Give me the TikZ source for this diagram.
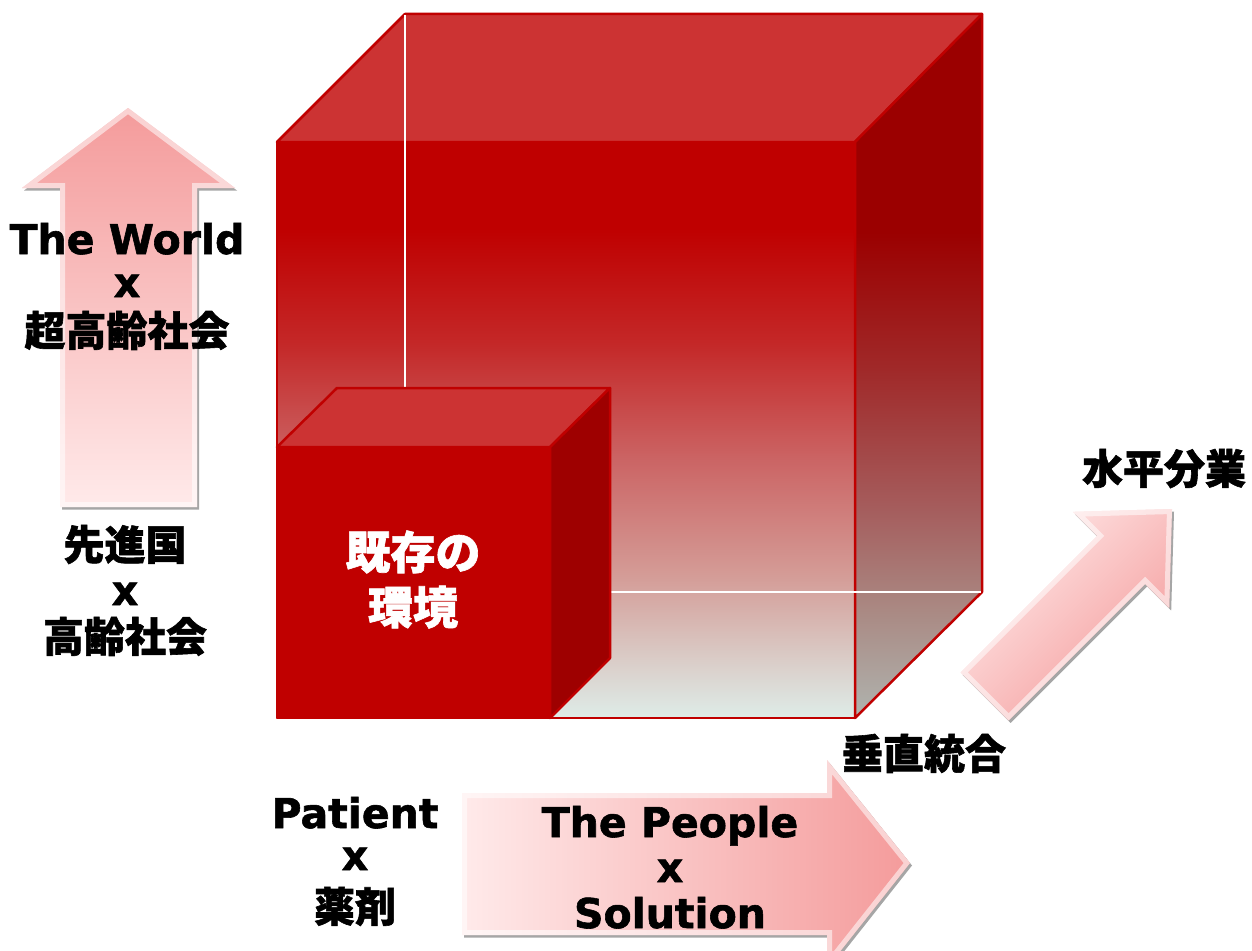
\documentclass[tikz,border=0pt]{standalone}
\usepackage{fontspec}
\setmainfont{DejaVu Sans}[BoldFeatures={FakeBold=1.4}]
\newfontfamily\cjk{Noto Sans CJK JP}[BoldFeatures={FakeBold=1.4}]
\usetikzlibrary{shadows}
\definecolor{cred}{RGB}{192,0,0}
\definecolor{ctop}{RGB}{204,51,51}
\definecolor{cside}{RGB}{158,0,0}
\definecolor{cdark}{RGB}{155,0,0}
\definecolor{fA}{RGB}{191,0,0}
\definecolor{fB}{RGB}{196,40,40}
\definecolor{fC}{RGB}{203,100,100}
\definecolor{fD}{RGB}{212,155,150}
\definecolor{fE}{RGB}{218,205,200}
\definecolor{fF}{RGB}{222,236,232}
\definecolor{sB}{RGB}{160,40,40}
\definecolor{sC}{RGB}{165,92,92}
\definecolor{sD}{RGB}{170,138,132}
\definecolor{sE}{RGB}{175,180,175}
\definecolor{pinkD}{RGB}{244,155,155}
\definecolor{pinkL}{RGB}{255,234,234}
\pgfdeclareverticalshading{frontgrad}{100bp}{color(0bp)=(fF); color(25bp)=(fF); color(30bp)=(fE); color(37.5bp)=(fD); color(47.5bp)=(fC); color(57.5bp)=(fB); color(67.5bp)=(fA); color(75bp)=(fA); color(100bp)=(fA)}
\pgfdeclareverticalshading{sidegrad}{100bp}{color(0bp)=(sE); color(25bp)=(sE); color(32.5bp)=(sD); color(40bp)=(sC); color(50bp)=(sB); color(59.5bp)=(cdark); color(75bp)=(cdark); color(100bp)=(cdark)}
\tikzset{
  edge/.style={draw=cred, line width=2.5pt, line join=round},
  hidden/.style={draw=white, line width=1.5pt},
  arrowshape/.style={drop shadow={shadow xshift=2pt, shadow yshift=-2.5pt, fill=black, opacity=.35}},
  bevel/.style={draw=white, draw opacity=.55, line width=10pt, line join=miter},
  lbl/.style={font=\fontsize{41}{41}\selectfont\bfseries, anchor=base, inner sep=0pt},
  jlbl/.style={font=\cjk\bfseries\fontsize{41}{41}\selectfont, anchor=base, inner sep=0pt},
  wlbl/.style={font=\cjk\bfseries\fontsize{45}{45}\selectfont, text=white, anchor=base, inner sep=0pt}
}
\def\arrUp{(60,507) -- (60,188) -- (22,188) -- (128,108) -- (235,188) -- (197,188) -- (197,507) -- cycle}
\def\arrRight{(462,793) -- (827,793) -- (827,760) -- (910,863) -- (827,968) -- (827,935) -- (462,935) -- cycle}
\def\arrDiag{(960.6,672.4) -- (1097.1,535.9) -- (1073.0,511.8) -- (1172,509) -- (1169.2,608.0) -- (1145.1,583.9) -- (1008.6,720.4) -- cycle}
\begin{document}
\begin{tikzpicture}[x=1pt,y=-1pt]
\useasboundingbox (0,0) rectangle (1252,950);
\fill[white] (0,0) rectangle (1252,950);
% ---- big cube
\shade[shading=frontgrad, edge] (277,142) rectangle (855,718);
\fill[ctop, edge] (277,142) -- (405,14) -- (982,14) -- (855,142) -- cycle;
\shade[shading=sidegrad, edge] (855,142) -- (982,14) -- (982,592) -- (855,718) -- cycle;
% hidden edges
\draw[hidden] (405,15) -- (405,592) -- (981,592);
\draw[hidden] (405,592) -- (277,718);
% ---- small cube
\fill[cred, edge] (277,447) rectangle (550,718);
\fill[ctop, edge] (277,447) -- (337,388) -- (610,388) -- (550,447) -- cycle;
\fill[cside, edge] (550,447) -- (610,388) -- (610,658) -- (550,718) -- cycle;
\node[wlbl] (e1) at (413,569) {既存の};
\node[wlbl] (e2) at (413,624) {環境};
% ---- up arrow
\shade[arrowshape, top color=pinkD, bottom color=pinkL] \arrUp;
\begin{scope}\clip \arrUp; \draw[bevel] \arrUp; \end{scope}
% ---- right arrow
\shade[arrowshape, left color=pinkL, right color=pinkD] \arrRight;
\begin{scope}\clip \arrRight; \draw[bevel] \arrRight; \end{scope}
% ---- diagonal arrow
\shade[arrowshape, left color=pinkL, right color=pinkD, shading angle=45] \arrDiag;
\begin{scope}\clip \arrDiag; \draw[bevel] \arrDiag; \end{scope}
% ---- labels
\node[lbl]  (w1) at (127,254) {The World};
\node[lbl]  (w2) at (127,297) {x};
\node[jlbl] (w3) at (127,346) {超高齢社会};
\node[jlbl] (d1) at (125,560) {先進国};
\node[lbl]  (d2) at (125,605) {x};
\node[jlbl] (d3) at (125,652) {高齢社会};
\node[lbl]  (p1) at (355,828) {Patient};
\node[lbl]  (p2) at (355,870) {x};
\node[jlbl] (p3) at (355,922) {薬剤};
\node[lbl]  (s1) at (670,837) {The People};
\node[lbl]  (s2) at (670,882) {x};
\node[lbl]  (s3) at (670,928) {Solution};
\node[jlbl] (hz) at (1164,484) {水平分業};
\node[jlbl] (vt) at (924,769) {垂直統合};
\end{tikzpicture}
\end{document}
